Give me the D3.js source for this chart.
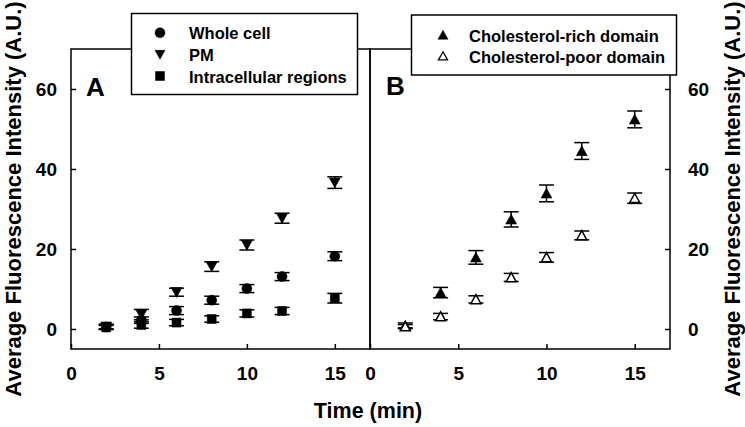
<!DOCTYPE html>
<html>
<head>
<meta charset="utf-8">
<script src="https://cdn.jsdelivr.net/npm/d3@7"></script>
<style>
  html, body { margin: 0; padding: 0; background: #fff; }
  svg { display: block; font-family: "Liberation Sans", Arial, sans-serif; font-weight: bold; }
</style>
</head>
<body>
<svg id="chart" width="745" height="427"></svg>
<script>
// ---- Data ----
const times = [2, 4, 6, 8, 10, 12, 15];
const xTicks = [0, 5, 10, 15];
const yTicks = [0, 20, 40, 60];

// Panel A
const wholeCell      = [0.5, 2.2, 4.6, 7.2, 10.1, 13.1, 18.2];
const wholeCellErr   = [0.6, 0.8, 1.0, 1.0, 1.0, 1.0, 1.1];
const pm             = [0.6, 3.6, 9.2, 15.6, 21.0, 27.7, 36.6];
const pmErr          = [0.6, 1.3, 1.0, 1.2, 1.25, 1.25, 1.45];
const intracellular  = [0.4, 1.0, 1.6, 2.5, 3.9, 4.5, 7.7];
const intracellErr   = [0.5, 0.8, 0.8, 0.8, 0.9, 0.9, 1.2];

// Panel B
const cholRich       = [0.9, 9.1, 17.9, 27.4, 33.9, 44.5, 52.4];
const cholRichErr    = [0.6, 1.3, 1.7, 1.9, 2.1, 2.1, 2.1];
const cholPoor       = [0.6, 3.1, 7.4, 12.9, 17.9, 23.4, 32.7];
const cholPoorErr    = [0.5, 0.8, 0.9, 1.0, 1.2, 1.1, 1.3];

const legendA = ["Whole cell", "PM", "Intracellular regions"];
const legendB = ["Cholesterol-rich domain", "Cholesterol-poor domain"];
const yTitle = "Average Fluorescence Intensity (A.U.)";
const xTitle = "Time (min)";

// ---- Layout ----
const svg = d3.select("#chart");
const plotTop = 49, plotBottom = 349;
const y = d3.scaleLinear().domain([-5, 70]).range([plotBottom, plotTop]);
const xA = d3.scaleLinear().domain([0, 17]).range([71, 370]);
const xB = d3.scaleLinear().domain([0, 17]).range([370, 670]);
const SW = 1.5;

// marker path generators (relative to center)
const shapes = {
  circle: r => `M${-r},0A${r},${r} 0 1,0 ${r},0A${r},${r} 0 1,0 ${-r},0Z`,
  down:   r => `M${-r},${-r*0.85}L${r},${-r*0.85}L0,${r*0.95}Z`,
  up:     r => `M${-r},${r*0.85}L${r},${r*0.85}L0,${-r*0.95}Z`,
  square: r => `M${-r},${-r}H${r}V${r}H${-r}Z`
};

function drawSeries(g, x, vals, errs, shape, size, filled) {
  const data = times.map((t, i) => ({t, v: vals[i], e: errs[i]}));
  const eb = g.append("g").attr("stroke", "#000").attr("stroke-width", SW);
  data.forEach(d => {
    const cx = x(d.t);
    eb.append("line").attr("x1", cx).attr("x2", cx).attr("y1", y(d.v - d.e)).attr("y2", y(d.v + d.e));
    [d.v - d.e, d.v + d.e].forEach(vv => {
      eb.append("line").attr("x1", cx - 7.5).attr("x2", cx + 7.5).attr("y1", y(vv)).attr("y2", y(vv));
    });
  });
  g.append("g").selectAll("path").data(data).join("path")
    .attr("transform", d => `translate(${x(d.t)},${y(d.v)})`)
    .attr("d", shapes[shape](size))
    .attr("fill", filled ? "#000" : "#fff")
    .attr("stroke", "#000")
    .attr("stroke-width", filled ? 0.5 : 1.5);
}

// ---- Frames ----
[xA, xB].forEach(x => {
  svg.append("rect")
    .attr("x", x.range()[0]).attr("y", plotTop)
    .attr("width", x.range()[1] - x.range()[0]).attr("height", plotBottom - plotTop)
    .attr("fill", "none").attr("stroke", "#000").attr("stroke-width", SW);
});

// ---- Axes ----
function styleAxis(g) {
  g.select(".domain").remove();
  g.selectAll(".tick line").attr("stroke", "#000").attr("stroke-width", SW);
  g.selectAll(".tick text").attr("fill", "#000").style("font-size", "19px")
    .style("font-family", "'Liberation Sans', Arial, sans-serif").style("font-weight", "bold");
}
[xA, xB].forEach(x => {
  svg.append("g").attr("transform", `translate(0,${plotBottom})`)
    .call(d3.axisBottom(x).tickValues(xTicks).tickFormat(d3.format("d"))
      .tickSizeInner(-5).tickSizeOuter(0).tickPadding(18))
    .call(styleAxis);
});
svg.append("g").attr("transform", `translate(${xA.range()[0]},0)`)
  .call(d3.axisLeft(y).tickValues(yTicks).tickFormat(d3.format("d"))
    .tickSizeInner(-5).tickSizeOuter(0).tickPadding(14))
  .call(styleAxis);
svg.append("g").attr("transform", `translate(${xB.range()[1]},0)`)
  .call(d3.axisRight(y).tickValues(yTicks).tickFormat(d3.format("d"))
    .tickSizeInner(-5).tickSizeOuter(0).tickPadding(18))
  .call(styleAxis);

// ---- Series ----
const gA = svg.append("g");
drawSeries(gA, xA, intracellular, intracellErr, "square", 4.5, true);
drawSeries(gA, xA, pm, pmErr, "down", 5.5, true);
drawSeries(gA, xA, wholeCell, wholeCellErr, "circle", 5, true);

const gB = svg.append("g");
drawSeries(gB, xB, cholRich, cholRichErr, "up", 5.5, true);
drawSeries(gB, xB, cholPoor, cholPoorErr, "up", 5, false);

// ---- Panel labels ----
svg.append("text").attr("x", 86).attr("y", 96).style("font-size", "26px").text("A");
svg.append("text").attr("x", 386).attr("y", 95).style("font-size", "26px").text("B");

// ---- Legends ----
function legend(x0, y0, w, h, items, specs, mx, tx, baselines) {
  const g = svg.append("g");
  g.append("rect").attr("x", x0).attr("y", y0).attr("width", w).attr("height", h)
    .attr("fill", "#fff").attr("stroke", "#000").attr("stroke-width", SW);
  items.forEach((label, i) => {
    const s = specs[i];
    g.append("path").attr("transform", `translate(${mx},${baselines[i] - 6.5})`)
      .attr("d", shapes[s.shape](s.size))
      .attr("fill", s.filled ? "#000" : "#fff").attr("stroke", "#000")
      .attr("stroke-width", s.filled ? 0.5 : 1.3);
    g.append("text").attr("x", tx).attr("y", baselines[i]).style("font-size", "16.5px").text(label);
  });
}
legend(131.5, 13.5, 226, 81, legendA,
  [{shape: "circle", size: 5, filled: true}, {shape: "down", size: 5, filled: true}, {shape: "square", size: 4.5, filled: true}],
  160, 189, [39.3, 61, 82.5]);
legend(411.5, 15, 265, 60, legendB,
  [{shape: "up", size: 5, filled: true}, {shape: "up", size: 4.5, filled: false}],
  443, 469, [41.5, 62.5]);

// ---- Axis titles ----
svg.append("text").attr("x", 368).attr("y", 418).attr("text-anchor", "middle")
  .style("font-size", "21.5px").text(xTitle);
const midY = (plotTop + plotBottom) / 2;
svg.append("text").attr("transform", `translate(21,${midY}) rotate(-90)`).attr("text-anchor", "middle")
  .style("font-size", "22px").text(yTitle);
svg.append("text").attr("transform", `translate(740,${midY}) rotate(-90)`).attr("text-anchor", "middle")
  .style("font-size", "22px").text(yTitle);
</script>
</body>
</html>
